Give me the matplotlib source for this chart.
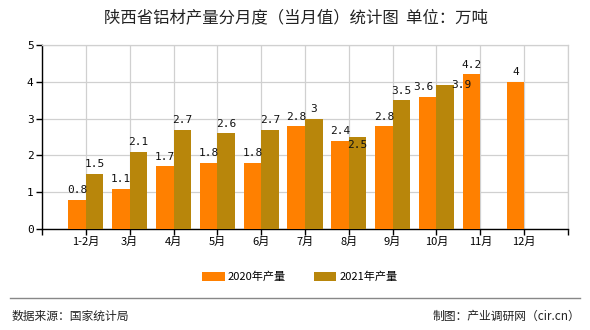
import matplotlib
matplotlib.use('Agg')
import matplotlib.pyplot as plt
import numpy as np

plt.rcParams['font.family'] = ['Noto Sans CJK SC', 'DejaVu Sans']

months = ['1-2月', '3月', '4月', '5月', '6月', '7月', '8月', '9月', '10月', '11月', '12月']
prod_2020 = [0.8, 1.1, 1.7, 1.8, 1.8, 2.8, 2.4, 2.8, 3.6, 4.2, 4.0]
prod_2021 = [1.5, 2.1, 2.7, 2.6, 2.7, 3.0, 2.5, 3.5, 3.9, None, None]

c2020 = '#ff8000'
c2021 = '#b8860b'

fig = plt.figure(figsize=(5.9, 3.3), dpi=100)
ax = fig.add_axes([42 / 590, 1 - 229 / 330, 526 / 590, 184 / 330])

x = np.arange(1, len(months) + 1)
w = 0.4

ax.bar(x - w / 2, prod_2020, w, color=c2020, label='2020年产量', zorder=3)
x21 = [xi for xi, v in zip(x, prod_2021) if v is not None]
v21 = [v for v in prod_2021 if v is not None]
ax.bar(np.array(x21) + w / 2, v21, w, color=c2021, label='2021年产量', zorder=3)

lbl_font = dict(family='DejaVu Sans Mono', fontsize=8, color='#111111', zorder=5)
for xi, v in zip(x, prod_2020):
    dx = -0.1 if v == 3.6 else 0
    ax.text(xi - w / 2 + dx, v + 0.12, '%g' % v, ha='center', va='bottom', **lbl_font)
for xi, v in zip(x21, v21):
    dy, dx, va = 0.12, 0, 'bottom'
    if v == 2.5:
        # keep clear of the 2.4 label next to it
        dy, va = -0.08, 'top'
    elif v == 3.9:
        dy, dx, va = 0, 0.36, 'center'
    ax.text(xi + w / 2 + dx, v + dy, '%g' % v, ha='center', va=va, **lbl_font)

ax.set_xlim(0, 12)
ax.set_ylim(0, 5)
ax.set_xticks(np.arange(0, 13))
ax.set_xticklabels([''] + months + [''], fontsize=8)
ax.set_yticks(np.arange(0, 6))
ax.set_yticklabels([str(i) for i in range(6)], fontsize=8, family='DejaVu Sans Mono')
ax.grid(True, color='#d0d0d0', linewidth=0.9, zorder=0)
ax.tick_params(axis='both', length=4, width=1, direction='out', color='black', pad=2)
for s in ['left', 'bottom']:
    ax.spines[s].set_color('black')
    ax.spines[s].set_linewidth(1)
for s in ['top', 'right']:
    ax.spines[s].set_color('#d0d0d0')
    ax.spines[s].set_linewidth(0.9)
ax.set_axisbelow(True)

fig.legend(loc='center', bbox_to_anchor=(300 / 590, 1 - 277 / 330), ncol=2,
           frameon=False, fontsize=8, handlelength=2.0, handleheight=0.8,
           columnspacing=2.5, handletextpad=0.3)

fig.text(296 / 590, 1 - 18 / 330, '陕西省铝材产量分月度（当月值）统计图  单位：万吨',
         ha='center', va='center', fontsize=11.8, color='#222222')

fig.add_artist(plt.Line2D([10 / 590, 580 / 590], [1 - 298 / 330, 1 - 298 / 330],
                          color='#888888', linewidth=1))
fig.text(12 / 590, 1 - 316 / 330, '数据来源：国家统计局', ha='left', va='center',
         fontsize=8.5, color='#222222')
fig.text(580 / 590, 1 - 316 / 330, '制图：产业调研网（cir.cn）', ha='right', va='center',
         fontsize=8.5, color='#222222')

fig.savefig('out.png', dpi=100)
